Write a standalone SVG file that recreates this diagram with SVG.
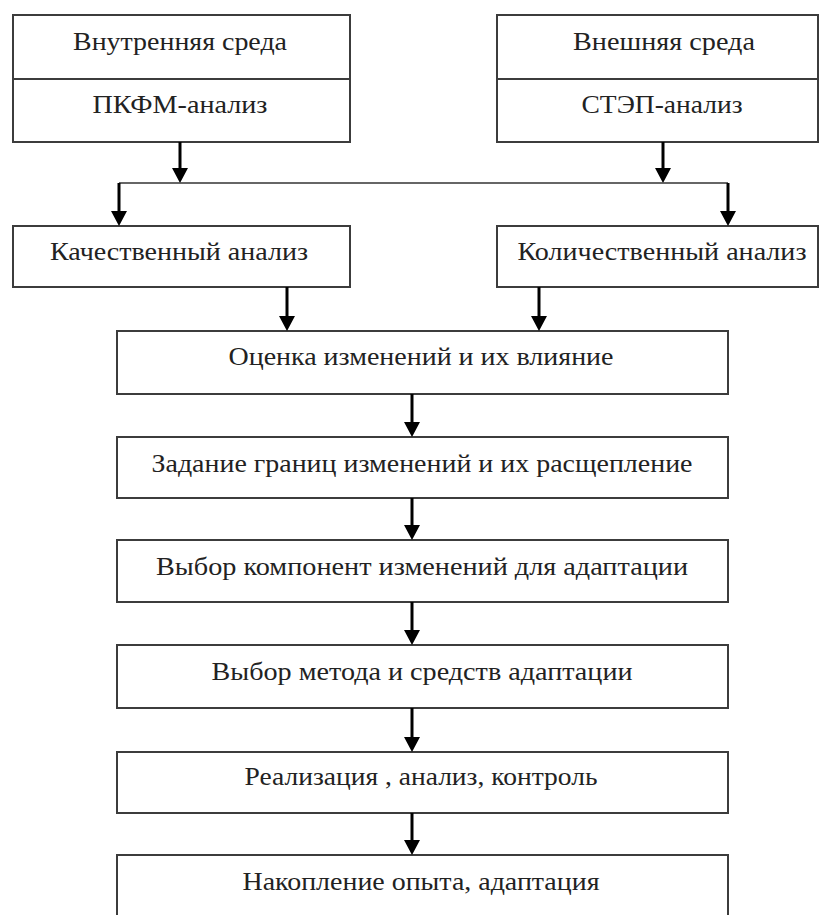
<svg xmlns="http://www.w3.org/2000/svg" width="819" height="915" viewBox="0 0 819 915">
<defs>
<style>
.box{fill:#fff;stroke:#3c3c3c;stroke-width:2}
.t{font-family:"Liberation Serif","Times New Roman",serif;font-size:25px;fill:#222;text-anchor:middle}
.arr{fill:none;stroke:#000;stroke-width:3}
.hl{fill:none;stroke:#333;stroke-width:1.6}
</style>
<marker id="ah" markerUnits="userSpaceOnUse" markerWidth="16" markerHeight="16" refX="9" refY="8" orient="auto">
<path d="M0,0 L15,8 L0,16 z" fill="#000"/>
</marker>
</defs>
<rect width="819" height="915" fill="#fff"/>

<g id="inner">
<rect class="box" x="13" y="15" width="337" height="127"/>
<line x1="13" y1="79" x2="350" y2="79" stroke="#3c3c3c" stroke-width="2"/>
<text class="t" x="180" y="50" textLength="214" lengthAdjust="spacingAndGlyphs">Внутренняя среда</text>
<text class="t" x="180" y="113" textLength="175" lengthAdjust="spacingAndGlyphs">ПКФМ-анализ</text>
</g>
<g id="outer">
<rect class="box" x="497" y="15" width="321" height="127"/>
<line x1="497" y1="79" x2="818" y2="79" stroke="#3c3c3c" stroke-width="2"/>
<text class="t" x="664" y="50" textLength="182" lengthAdjust="spacingAndGlyphs">Внешняя среда</text>
<text class="t" x="662" y="113" textLength="161" lengthAdjust="spacingAndGlyphs">СТЭП-анализ</text>
</g>
<g id="qual">
<rect class="box" x="13" y="226" width="337" height="61"/>
<text class="t" x="179" y="260" textLength="258" lengthAdjust="spacingAndGlyphs">Качественный анализ</text>
</g>
<g id="quant">
<rect class="box" x="497" y="226" width="321" height="61"/>
<text class="t" x="662" y="260" textLength="289" lengthAdjust="spacingAndGlyphs">Количественный анализ</text>
</g>
<g id="assess">
<rect class="box" x="117" y="331" width="611" height="63"/>
<text class="t" x="421" y="365" textLength="385" lengthAdjust="spacingAndGlyphs">Оценка изменений и их влияние</text>
</g>
<g id="bounds">
<rect class="box" x="117" y="437" width="611" height="61"/>
<text class="t" x="422" y="472" textLength="541" lengthAdjust="spacingAndGlyphs">Задание границ изменений и их расщепление</text>
</g>
<g id="components">
<rect class="box" x="117" y="540" width="611" height="62"/>
<text class="t" x="422" y="575" textLength="532" lengthAdjust="spacingAndGlyphs">Выбор компонент изменений для адаптации</text>
</g>
<g id="method">
<rect class="box" x="117" y="645" width="611" height="63"/>
<text class="t" x="422" y="680" textLength="421" lengthAdjust="spacingAndGlyphs">Выбор метода и средств адаптации</text>
</g>
<g id="implement">
<rect class="box" x="117" y="752" width="611" height="61"/>
<text class="t" x="421" y="785" textLength="353" lengthAdjust="spacingAndGlyphs">Реализация , анализ, контроль</text>
</g>
<g id="experience">
<rect class="box" x="117" y="855" width="611" height="80"/>
<text class="t" x="421" y="890" textLength="357" lengthAdjust="spacingAndGlyphs">Накопление опыта, адаптация</text>
</g>

<g id="connectors">
<path class="arr" d="M180,142 V177" marker-end="url(#ah)"/>
<path class="arr" d="M663,142 V177" marker-end="url(#ah)"/>
<path class="hl" d="M119,183 H728"/>
<path class="arr" d="M119,183 V220" marker-end="url(#ah)"/>
<path class="arr" d="M728,183 V220" marker-end="url(#ah)"/>
<path class="arr" d="M287,287 V325" marker-end="url(#ah)"/>
<path class="arr" d="M539,287 V325" marker-end="url(#ah)"/>
<path class="arr" d="M412,394 V431" marker-end="url(#ah)"/>
<path class="arr" d="M412,498 V534" marker-end="url(#ah)"/>
<path class="arr" d="M412,602 V639" marker-end="url(#ah)"/>
<path class="arr" d="M412,708 V746" marker-end="url(#ah)"/>
<path class="arr" d="M412,813 V849" marker-end="url(#ah)"/>
</g>
</svg>
